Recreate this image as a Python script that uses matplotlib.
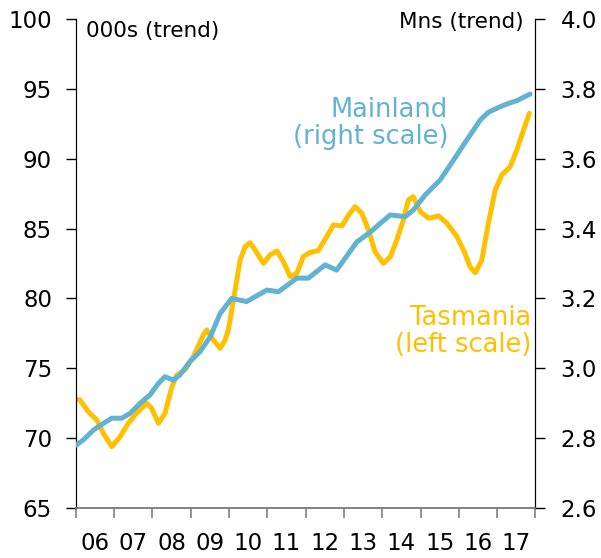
import matplotlib
matplotlib.use('Agg')
import matplotlib.pyplot as plt
import numpy as np

# Mainland, millions (trend), right scale
mainland_year = [2006.01, 2006.20, 2006.46, 2006.72, 2006.94, 2007.20, 2007.42, 2007.68,
                 2007.94, 2008.16, 2008.33, 2008.55, 2008.72, 2008.98, 2009.24, 2009.51,
                 2009.77, 2010.07, 2010.46, 2010.99, 2011.29, 2011.77, 2012.07, 2012.51,
                 2012.81, 2013.34, 2013.68, 2013.95, 2014.21, 2014.60, 2014.81, 2015.12,
                 2015.51, 2015.86, 2016.21, 2016.56, 2016.77, 2017.08, 2017.34, 2017.51,
                 2017.86]
mainland = [2.780, 2.795, 2.823, 2.842, 2.857, 2.857, 2.871, 2.900,
            2.924, 2.957, 2.976, 2.966, 2.981, 3.019, 3.047, 3.090,
            3.157, 3.200, 3.191, 3.224, 3.219, 3.258, 3.258, 3.296,
            3.281, 3.362, 3.389, 3.415, 3.439, 3.434, 3.453, 3.496,
            3.539, 3.596, 3.654, 3.711, 3.733, 3.749, 3.760, 3.766,
            3.785]

# Tasmania, thousands (trend), left scale
tas_year = [2006.01, 2006.11, 2006.33, 2006.55, 2006.72, 2006.94, 2007.16, 2007.37,
            2007.59, 2007.85, 2007.98, 2008.16, 2008.33, 2008.51, 2008.64, 2008.85,
            2009.07, 2009.33, 2009.42, 2009.59, 2009.77, 2009.90, 2009.98, 2010.03,
            2010.16, 2010.29, 2010.42, 2010.55, 2010.68, 2010.90, 2011.07, 2011.25,
            2011.42, 2011.60, 2011.77, 2011.94, 2012.12, 2012.33, 2012.55, 2012.73,
            2012.95, 2013.12, 2013.29, 2013.47, 2013.64, 2013.81, 2014.03, 2014.21,
            2014.38, 2014.55, 2014.68, 2014.81, 2014.99, 2015.21, 2015.47, 2015.69,
            2015.95, 2016.16, 2016.29, 2016.43, 2016.60, 2016.77, 2016.95, 2017.12,
            2017.34, 2017.51, 2017.69, 2017.84]
tasmania = [72.78, 72.73, 71.89, 71.30, 70.35, 69.39, 70.11, 71.06,
            71.78, 72.50, 72.14, 71.06, 71.78, 73.68, 74.52, 74.88,
            75.83, 77.38, 77.74, 77.03, 76.43, 77.03, 77.74, 78.46,
            80.60, 82.75, 83.70, 83.99, 83.47, 82.51, 83.11, 83.40,
            82.63, 81.56, 81.80, 82.99, 83.30, 83.42, 84.42, 85.26,
            85.19, 85.97, 86.57, 86.09, 84.90, 83.35, 82.51, 82.99,
            84.18, 85.61, 87.05, 87.28, 86.21, 85.74, 85.90, 85.38,
            84.42, 83.23, 82.27, 81.84, 82.75, 85.38, 87.76, 88.84,
            89.43, 90.62, 92.06, 93.25]

year_labels = ['06', '07', '08', '09', '10', '11', '12', '13', '14', '15', '16', '17']

blue = '#62B3D1'
gold = '#FFC000'
fs = 16.5

fig = plt.figure(figsize=(6.01, 5.58), dpi=100)
ax = fig.add_axes([0.126, 0.0896, 0.765, 0.8764])
ax2 = ax.twinx()

ax.plot(tas_year, tasmania, color=gold, lw=3.6, solid_capstyle='round',
        solid_joinstyle='round', zorder=2)
ax2.plot(mainland_year, mainland, color=blue, lw=3.6, solid_capstyle='round',
         solid_joinstyle='round', zorder=3)

ax.set_xlim(2006, 2018)
ax.set_ylim(65, 100)
ax2.set_ylim(2.6, 4.0)
ax.set_yticks(np.arange(65, 101, 5))
ax2.set_yticks(np.arange(2.6, 4.01, 0.2))
ax2.set_yticklabels([f'{v:.1f}' for v in np.arange(2.6, 4.01, 0.2)])

# year labels sit between the ticks
ax.set_xticks(np.arange(2006, 2019, 1))
ax.set_xticklabels([])
ax.set_xticks(np.arange(2006.5, 2018, 1), minor=True)
ax.set_xticklabels(year_labels, minor=True)
ax.tick_params(axis='x', which='major', direction='out', length=7, color='#808080', width=1.2)
ax.tick_params(axis='x', which='minor', length=0, labelsize=fs, pad=17)
ax.tick_params(axis='y', direction='out', length=7, width=1, labelsize=fs, pad=10)
ax2.tick_params(axis='y', direction='out', length=7, width=1, labelsize=fs, pad=11)

for a in (ax, ax2):
    a.spines['top'].set_visible(False)
    a.spines['bottom'].set_color('#808080')
    a.spines['bottom'].set_linewidth(1.2)
    a.patch.set_visible(False)

ax.text(0.022, 0.995, '000s (trend)', transform=ax.transAxes, fontsize=15.5,
        ha='left', va='top')
ax.text(0.975, 1.015, 'Mns (trend)', transform=ax.transAxes, fontsize=15.5,
        ha='right', va='top')
ax.text(0.81, 0.84, 'Mainland\n(right scale)', transform=ax.transAxes, fontsize=18.5,
        ha='right', va='top', color=blue, linespacing=1.05)
ax.text(0.99, 0.415, 'Tasmania\n(left scale)', transform=ax.transAxes, fontsize=18.5,
        ha='right', va='top', color=gold, linespacing=1.05)

fig.savefig('out.png', dpi=100)
